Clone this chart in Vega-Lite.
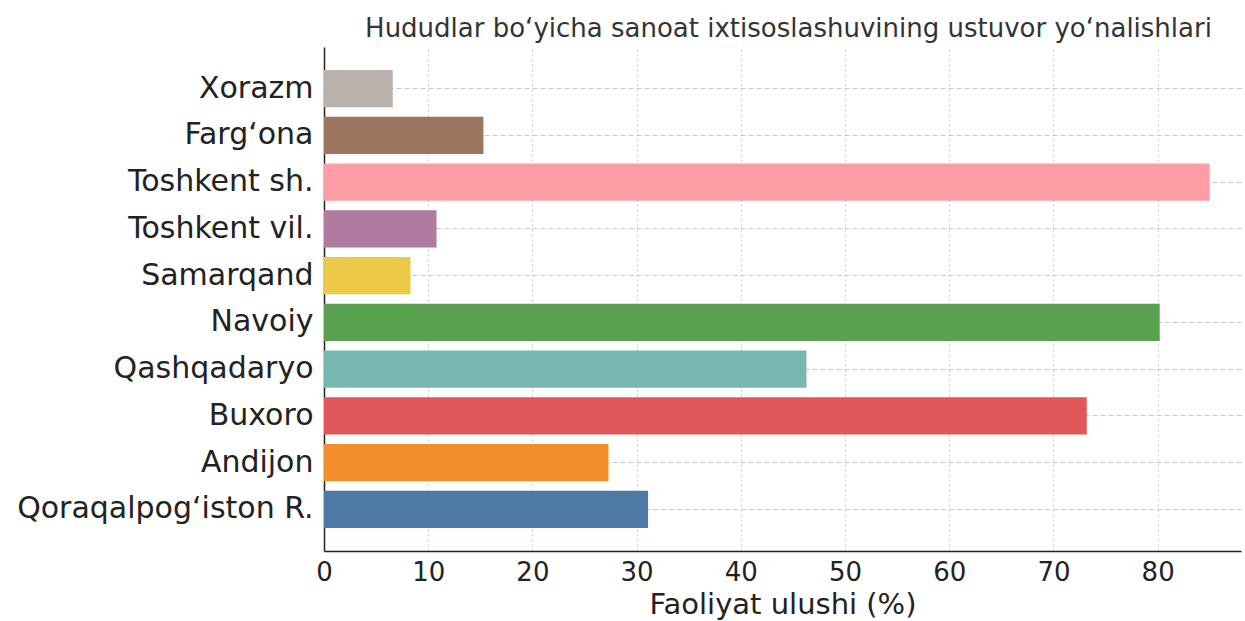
{
  "$schema": "https://vega.github.io/schema/vega-lite/v6.json",
  "autosize": {"type": "none"},
  "padding": {"left": 324, "top": 47, "right": 4, "bottom": 70},
  "width": 917,
  "height": 504,
  "background": "white",
  "title": {
    "text": "Hududlar bo‘yicha sanoat ixtisoslashuvining ustuvor yo‘nalishlari",
    "font": "DejaVu Sans",
    "fontSize": 26,
    "fontWeight": "normal",
    "color": "#333333",
    "anchor": "middle",
    "dx": 6,
    "offset": 5
  },
  "data": {
    "values": [
      {"region": "Xorazm", "share": 6.6},
      {"region": "Farg‘ona", "share": 15.3},
      {"region": "Toshkent sh.", "share": 85.0},
      {"region": "Toshkent vil.", "share": 10.8},
      {"region": "Samarqand", "share": 8.3},
      {"region": "Navoiy", "share": 80.2},
      {"region": "Qashqadaryo", "share": 46.3},
      {"region": "Buxoro", "share": 73.2},
      {"region": "Andijon", "share": 27.3},
      {"region": "Qoraqalpog‘iston R.", "share": 31.1}
    ]
  },
  "mark": {"type": "bar", "opacity": 1},
  "encoding": {
    "y": {
      "field": "region",
      "type": "nominal",
      "sort": null,
      "scale": {"paddingInner": 0.2, "paddingOuter": 0.49},
      "axis": {
        "title": null,
        "bandPosition": 0.5,
        "grid": true,
        "gridDash": [5, 3],
        "gridColor": "#c8c8c8",
        "gridWidth": 1,
        "labelFontSize": 30,
        "labelLimit": 0,
        "labelPadding": 11,
        "tickSize": 0
      }
    },
    "x": {
      "field": "share",
      "type": "quantitative",
      "scale": {"domain": [0, 88], "nice": false},
      "axis": {
        "title": "Faoliyat ulushi (%)",
        "values": [0, 10, 20, 30, 40, 50, 60, 70, 80],
        "grid": true,
        "gridDash": [2, 3],
        "gridColor": "#c8c8c8",
        "gridWidth": 1,
        "labelFontSize": 26,
        "labelFlush": false,
        "labelPadding": 8,
        "tickSize": 0,
        "titleFontSize": 29,
        "titleFontWeight": "normal",
        "titlePadding": 5
      }
    },
    "color": {
      "field": "region",
      "type": "nominal",
      "legend": null,
      "scale": {
        "domain": ["Xorazm", "Farg‘ona", "Toshkent sh.", "Toshkent vil.", "Samarqand", "Navoiy", "Qashqadaryo", "Buxoro", "Andijon", "Qoraqalpog‘iston R."],
        "range": ["#bab0ac", "#9c755f", "#ff9da7", "#b07aa1", "#edc948", "#59a14f", "#76b7b2", "#e15759", "#f28e2b", "#4e79a7"]
      }
    }
  },
  "config": {
    "view": {"stroke": null},
    "font": "DejaVu Sans",
    "axis": {
      "zindex": 1,
      "domainColor": "#222222",
      "domainWidth": 1.5,
      "tickColor": "#222222",
      "tickWidth": 1.2,
      "labelColor": "#222222",
      "titleColor": "#222222",
      "labelFont": "DejaVu Sans",
      "titleFont": "DejaVu Sans"
    }
  }
}
